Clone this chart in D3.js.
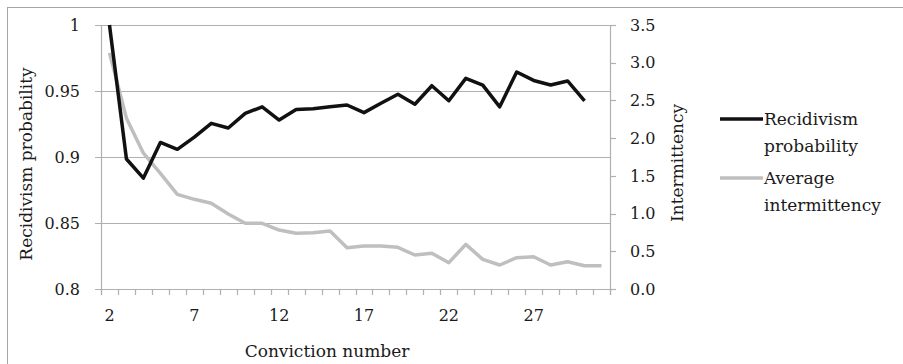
<!DOCTYPE html>
<html><head><meta charset="utf-8">
<script src="https://cdn.jsdelivr.net/npm/d3@7/dist/d3.min.js"></script>
<style>
html,body{margin:0;padding:0;background:#fff;}
svg{display:block;}
text{font-family:"DejaVu Serif",serif;fill:#1a1a1a;}
</style></head><body>
<script>
const convictions = d3.range(2, 32);
const recidivism = [1.0, 0.8985, 0.884, 0.911, 0.9058, 0.915, 0.9255, 0.922, 0.933, 0.938,
  0.928, 0.936, 0.9366, 0.938, 0.9394, 0.9336, 0.9407, 0.9475, 0.940, 0.954,
  0.9426, 0.9596, 0.9545, 0.938, 0.9644, 0.958, 0.9545, 0.9576, 0.9426];
const intermittency = [3.13, 2.263, 1.80, 1.534, 1.255, 1.189, 1.136, 0.994, 0.871, 0.871,
  0.782, 0.738, 0.747, 0.769, 0.548, 0.570, 0.570, 0.552, 0.451, 0.473,
  0.349, 0.592, 0.393, 0.318, 0.415, 0.428, 0.318, 0.362, 0.309, 0.309];
const xTickLabels = [2, 7, 12, 17, 22, 27];
const leftTicks = [0.8, 0.85, 0.9, 0.95, 1];
const rightTicks = [0, 0.5, 1, 1.5, 2, 2.5, 3, 3.5];
const seriesNames = [["Recidivism", "probability"], ["Average", "intermittency"]];
const seriesColors = ["#111111", "#bfbfbf"];

const W = 903, H = 364;
const L = 101, R = 610, T = 25, B = 289;
const svg = d3.select("body").append("svg").attr("width", W).attr("height", H);

svg.append("rect").attr("x", 7.5).attr("y", 7.5).attr("width", 1000).attr("height", 1000)
  .attr("fill", "none").attr("stroke", "#a6a6a6").attr("stroke-width", 1);

const x = d3.scaleBand().domain(convictions).range([L, R]).paddingInner(0).paddingOuter(0);
const yL = d3.scaleLinear().domain([0.8, 1]).range([B, T]);
const yR = d3.scaleLinear().domain([0, 3.5]).range([B, T]);
const grid = "#b0b0b0";
const fsTick = 16, fsText = 17;

// gridlines
svg.append("g").selectAll("line").data(leftTicks).join("line")
  .attr("x1", L - 6).attr("x2", R).attr("y1", d => Math.round(yL(d)) + 0.5).attr("y2", d => Math.round(yL(d)) + 0.5)
  .attr("stroke", grid).attr("stroke-width", 1.2);

// left axis line
svg.append("line").attr("x1", L + 0.5).attr("x2", L + 0.5).attr("y1", T).attr("y2", B + 6)
  .attr("stroke", grid).attr("stroke-width", 1.2);
// right axis
svg.append("line").attr("x1", R + 0.5).attr("x2", R + 0.5).attr("y1", T).attr("y2", B + 6)
  .attr("stroke", grid).attr("stroke-width", 1.2);
svg.append("g").selectAll("line").data(rightTicks).join("line")
  .attr("x1", R).attr("x2", R + 6).attr("y1", d => Math.round(yR(d)) + 0.5).attr("y2", d => Math.round(yR(d)) + 0.5)
  .attr("stroke", grid).attr("stroke-width", 1.2);

// x tick marks at category boundaries
const bounds = convictions.map(c => x(c)).concat([R]);
svg.append("g").selectAll("line").data(bounds).join("line")
  .attr("x1", d => Math.round(d) + 0.5).attr("x2", d => Math.round(d) + 0.5)
  .attr("y1", B).attr("y2", B + 6).attr("stroke", grid).attr("stroke-width", 1.2);

// tick labels
svg.append("g").selectAll("text").data(leftTicks).join("text")
  .attr("x", 80).attr("y", d => yL(d)).attr("dy", "0.36em").attr("text-anchor", "end")
  .attr("font-size", fsTick).text(d => d3.format("")(+d.toFixed(2)));
svg.append("g").selectAll("text").data(rightTicks).join("text")
  .attr("x", 630).attr("y", d => yR(d)).attr("dy", "0.36em").attr("text-anchor", "start")
  .attr("font-size", fsTick).text(d => d.toFixed(1));
svg.append("g").selectAll("text").data(xTickLabels).join("text")
  .attr("x", d => x(d) + x.bandwidth() / 2).attr("y", 315).attr("dy", "0.36em").attr("text-anchor", "middle")
  .attr("font-size", fsTick).text(d => d);

// axis titles
svg.append("text").attr("x", 327).attr("y", 351).attr("dy", "0.36em").attr("text-anchor", "middle")
  .attr("font-size", fsText).text("Conviction number");
svg.append("text").attr("transform", "translate(26,164) rotate(-90)").attr("dy", "0.36em")
  .attr("text-anchor", "middle").attr("font-size", fsText).text("Recidivism probability");
svg.append("text").attr("transform", "translate(677,163) rotate(-90)").attr("dy", "0.36em")
  .attr("text-anchor", "middle").attr("font-size", fsText).text("Intermittency");

// lines
const cx = (i) => x(convictions[i]) + x.bandwidth() / 2;
svg.append("defs").append("clipPath").attr("id", "clip").append("rect")
  .attr("x", L).attr("y", T - 2).attr("width", R - L).attr("height", B - T + 4);
const g = svg.append("g").attr("clip-path", "url(#clip)");
g.append("path").datum(intermittency)
  .attr("d", d3.line().x((d, i) => cx(i)).y(d => yR(d)))
  .attr("fill", "none").attr("stroke", seriesColors[1]).attr("stroke-width", 3.5).attr("stroke-linejoin", "round");
g.append("path").datum(recidivism)
  .attr("d", d3.line().x((d, i) => cx(i)).y(d => yL(d)))
  .attr("fill", "none").attr("stroke", seriesColors[0]).attr("stroke-width", 3.5).attr("stroke-linejoin", "round");

// legend
const legY = [119, 178];
seriesNames.forEach((nm, k) => {
  svg.append("line").attr("x1", 720).attr("x2", 763).attr("y1", legY[k]).attr("y2", legY[k])
    .attr("stroke", seriesColors[k]).attr("stroke-width", 3.5);
  svg.append("text").attr("x", 764).attr("y", legY[k]).attr("dy", "0.36em").attr("font-size", fsText).text(nm[0]);
  svg.append("text").attr("x", 764).attr("y", legY[k] + 27).attr("dy", "0.36em").attr("font-size", fsText).text(nm[1]);
});
</script>
</body></html>
